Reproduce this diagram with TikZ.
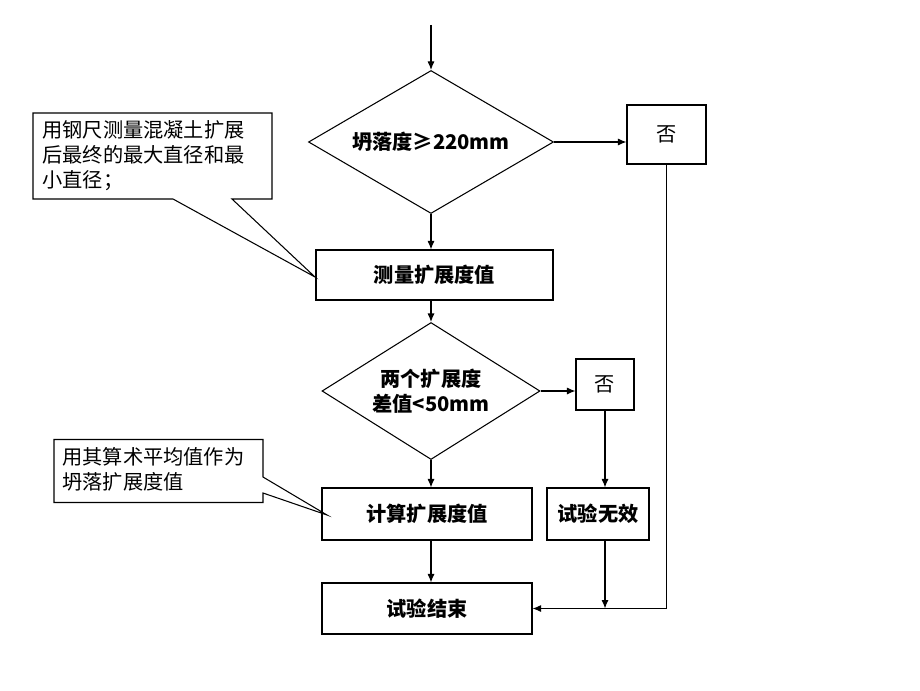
\documentclass[tikz,border=0pt]{standalone}
\usepackage{fontspec}
\setmainfont{Noto Sans CJK SC}
\usetikzlibrary{shapes.geometric,arrows.meta}
\begin{document}
\begin{tikzpicture}[line width=0.6pt,
  >={Latex[length=1.7mm,width=1.4mm]},
  every node/.style={font=\fontsize{11.5}{14.2}\selectfont},
  box/.style={draw, rectangle, inner sep=0pt, font=\fontsize{11.5}{14.2}\selectfont\bfseries},
  choice/.style={draw, diamond, inner sep=0pt, align=center, font=\fontsize{11.5}{14.2}\selectfont\bfseries},
  nobox/.style={draw, rectangle, inner sep=0pt},
  note/.style={inner sep=0pt, align=left}]
\useasboundingbox (0,0) rectangle (18.4,-13.8);
\coordinate (start) at (8.62,-0.5);
\node[choice, aspect=1.71, minimum width=4.9cm, minimum height=2.86cm] (d1) at (8.62,-2.84) {坍落度≥220mm};
\node[nobox, minimum width=1.58cm, minimum height=1.18cm] (no1) at (13.33,-2.69) {否};
\node[box, minimum width=4.74cm, minimum height=1.0cm] (meas) at (8.69,-5.5) {测量扩展度值};
\node[choice, aspect=1.59, minimum width=4.36cm, minimum height=2.74cm] (d2) at (8.62,-7.82) {两个扩展度\\差值<50mm};
\node[nobox, minimum width=1.16cm, minimum height=1.02cm] (no2) at (12.1,-7.69) {否};
\node[box, minimum width=4.2cm, minimum height=1.04cm] (calc) at (8.54,-10.28) {计算扩展度值};
\node[box, minimum width=2.04cm, minimum height=1.04cm] (void) at (11.96,-10.28) {试验无效};
\node[box, minimum width=4.2cm, minimum height=1.02cm] (end) at (8.54,-12.17) {试验结束};
% callouts
\draw (0.66,-2.26) -- (5.44,-2.26) -- (5.44,-3.98) -- (4.64,-3.98) -- (6.3,-5.54)
  -- (3.46,-3.98) -- (0.66,-3.98) -- cycle;
\node[note, anchor=north west] (n1) at (0.84,-2.4) {用钢尺测量混凝土扩展\\后最终的最大直径和最\\小直径；};
\draw (1.08,-8.79) -- (5.26,-8.79) -- (5.26,-9.54) -- (6.54,-10.3) -- (5.26,-9.86)
  -- (5.26,-10.05) -- (1.08,-10.05) -- cycle;
\node[note, anchor=north west] (n2) at (1.24,-8.93) {用其算术平均值作为\\坍落扩展度值};
% flow
\path[draw,->] (start) -- (d1.north);
\path[draw,->] (d1.east) -- (no1.west |- d1.east);
\path[draw,->] (d1.south) -- (d1.south |- meas.north);
\path[draw,->] (d1.south |- meas.south) -- (d2.north);
\path[draw,->] (d2.east) -- (no2.west |- d2.east);
\path[draw,->] (d2.south) -- (d2.south |- calc.north);
\path[draw,->] (no2.south) -- (no2.south |- void.north);
\path[draw,->] (d2.south |- calc.south) -- (d2.south |- end.north);
\path[draw,->] (no2.south |- void.south) -- (no2.south |- end.east);
\path[draw,->] (no1.south) -- (no1.south |- end.east) -- (end.east);
\end{tikzpicture}
\end{document}
